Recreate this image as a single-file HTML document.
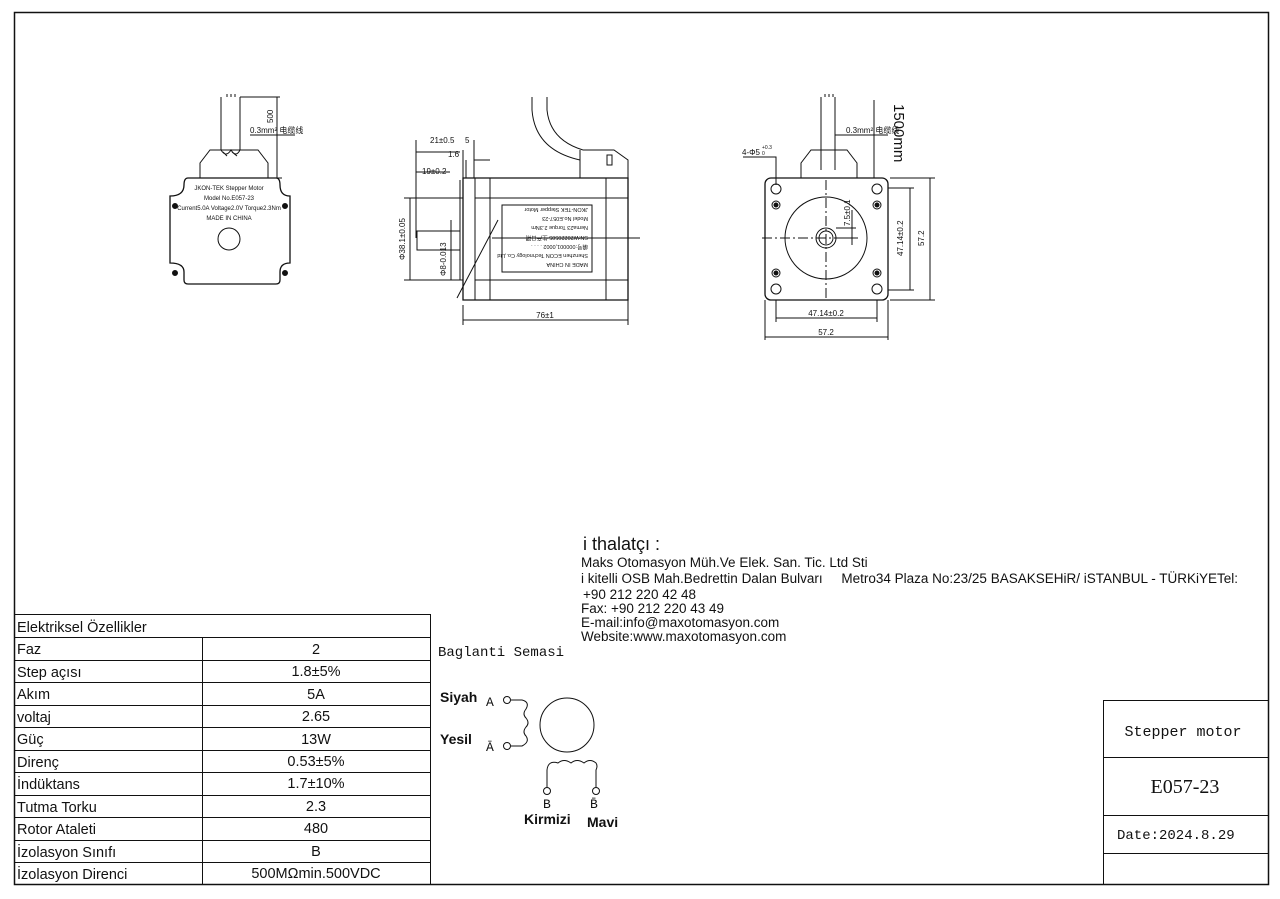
<!DOCTYPE html>
<html><head><meta charset="utf-8"><style>
html,body{margin:0;padding:0;background:#fff;}
svg{display:block;}
text{font-family:"Liberation Sans","Noto Sans CJK SC",sans-serif;fill:#111;}
.m{font-family:"Liberation Mono","Noto Sans CJK SC",monospace;}
.s{font-size:8px;}
</style></head><body>
<svg width="1280" height="899" viewBox="0 0 1280 899" xmlns="http://www.w3.org/2000/svg" stroke="#111" fill="none" stroke-width="1">
<rect x="14.5" y="12.5" width="1254" height="872" stroke-width="1.5"/>

<g>
<path d="M221 97 V150 M240 97 V150 M227 97 v-3 M231 97 v-3 M235 97 v-3"/>
<path d="M221 150 q5 8 10 0 q5 8 9 0 M223 152 l4 4 M232 152 l5 4"/>
<path d="M200 178 V163 L210 150 H258 L268 163 V178"/>
<path d="M188 178 H276 Q280 178 280 185 Q280 196 290 196 V263 Q280 263 280 272 V280 Q280 284 276 284 H188 Q184 284 184 280 V272 Q184 263 170 263 V196 Q184 196 184 185 Q184 178 188 178Z" stroke-width="1.3"/>
<circle cx="175" cy="206" r="2.5" fill="#111"/><circle cx="285" cy="206" r="2.5" fill="#111"/>
<circle cx="175" cy="273" r="2.5" fill="#111"/><circle cx="285" cy="273" r="2.5" fill="#111"/>
<circle cx="229" cy="239" r="11"/>
<path d="M240 97 H280 M268 178 H282 M277 97 V178 M250 135 H295"/>
<text class="s" x="262" y="118" transform="rotate(-90 270 115)" stroke="none">500</text>
<text class="s" x="250" y="133" stroke="none">0.3mm² 电缆线</text>
<text x="229" y="190" font-size="6" text-anchor="middle" stroke="none">JKON-TEK  Stepper Motor</text>
<text x="229" y="200" font-size="6" text-anchor="middle" stroke="none">Model No.E057-23</text>
<text x="229" y="210" font-size="6" text-anchor="middle" stroke="none">Current5.0A  Voltage2.0V  Torque2.3Nm</text>
<text x="229" y="220" font-size="6" text-anchor="middle" stroke="none">MADE IN CHINA</text>
</g>

<g>
<path d="M463 178 H628 V300 H463 Z" stroke-width="1.3"/>
<path d="M475 178 V300 M490 178 V300 M606 178 V300 M475 198 H628 M475 280 H628"/>
<path d="M460 198 V280 H463 M460 198 H463"/>
<rect x="417" y="231" width="43" height="19"/>
<rect x="502" y="205" width="90" height="67"/>
<path d="M492 238 H640"/>
<path d="M532 97 V110 Q535 150 580 160 M547 97 V110 Q550 140 583 150"/>
<path d="M580 150 V178 M583 150 H614 L628 160 V178 M607 155 V165 H612 V155Z"/>
<path d="M416 140 V238 M463 150 V178 M474 140 V178 M416 152 H460 M474 160 H490 M416 172 H450 M460 180 V198 M466 160 V178"/>
<path d="M404 198 H460 M404 280 H460 M410 198 V280"/>
<path d="M451 220 V280 M445 250 H460"/>
<path d="M457 298 L498 220"/>
<path d="M463 305 V325 M628 300 V325 M463 320 H628"/>
<text class="s" x="430" y="143" stroke="none">21±0.5</text>
<text class="s" x="465" y="143" stroke="none">5</text>
<text class="s" x="448" y="157" stroke="none">1.6</text>
<text class="s" x="422" y="174" stroke="none">19±0.2</text>
<text class="s" x="405" y="260" transform="rotate(-90 405 260)" stroke="none">Φ38.1±0.05</text>
<text class="s" x="446" y="276" transform="rotate(-90 446 276)" stroke="none">Φ8-0.013</text>
<text class="s" x="545" y="318" text-anchor="middle" stroke="none">76±1</text>
<g transform="rotate(180 547 238)" stroke="none" font-size="5.5">
<text x="506" y="213">MADE IN CHINA</text>
<text x="506" y="222">Shenzhen ECON Technology Co.,Ltd</text>
<text x="506" y="231">编号:000001,0002 . . . .</text>
<text x="506" y="240">SN:W20220505 生产日期</text>
<text x="506" y="250">Nema23  Torque 2.3Nm</text>
<text x="506" y="259">Model No.E057-23</text>
<text x="506" y="268">JKON-TEK   Stepper Motor</text>
</g>
</g>

<g>
<path d="M821 97 V170 M835 97 V170 M825 97 v-3 M829 97 v-3 M833 97 v-3"/>
<path d="M801 178 V163 L811 150 H847 L857 163 V178"/>
<rect x="765" y="178" width="123" height="122" rx="6" stroke-width="1.3"/>
<circle cx="826" cy="238" r="41"/>
<circle cx="826" cy="238" r="10"/><circle cx="826" cy="238" r="7"/>
<circle cx="776" cy="189" r="5"/><circle cx="877" cy="189" r="5"/><circle cx="776" cy="289" r="5"/><circle cx="877" cy="289" r="5"/>
<circle cx="776" cy="205" r="4"/><circle cx="776" cy="205" r="2" fill="#111"/>
<circle cx="877" cy="205" r="4"/><circle cx="877" cy="205" r="2" fill="#111"/>
<circle cx="776" cy="273" r="4"/><circle cx="776" cy="273" r="2" fill="#111"/>
<circle cx="877" cy="273" r="4"/><circle cx="877" cy="273" r="2" fill="#111"/>
<path d="M826 180 V300 M762 238 H858" stroke-dasharray="10 3 2 3"/>
<path d="M874 100 V178 M835 135 H888 M743 157 H776 V185"/>
<path d="M888 188 H914 M888 290 H914 M910 188 V290 M890 178 H935 M890 300 H935 M930 178 V300"/>
<path d="M776 300 V322 M877 300 V322 M776 318 H877 M765 300 V340 M888 300 V340 M765 337 H888"/>
<path d="M836 228 H856 M836 238 H856 M852 210 V245"/>
<text class="s" x="846" y="133" stroke="none">0.3mm² 电缆线</text>
<text x="894" y="104" font-size="15" transform="rotate(90 894 104)" stroke="none">1500mm</text>
<text class="s" x="742" y="155" stroke="none">4-Φ5</text>
<text x="762" y="149" font-size="5" stroke="none">+0.3</text>
<text x="762" y="155" font-size="5" stroke="none">0</text>
<text class="s" x="826" y="316" text-anchor="middle" stroke="none">47.14±0.2</text>
<text class="s" x="826" y="335" text-anchor="middle" stroke="none">57.2</text>
<text class="s" x="903" y="256" transform="rotate(-90 903 256)" stroke="none">47.14±0.2</text>
<text class="s" x="924" y="246" transform="rotate(-90 924 246)" stroke="none">57.2</text>
<text class="s" x="850" y="226" transform="rotate(-90 850 226)" stroke="none">7.5±0.1</text>
</g>

<g stroke="none">
<text x="583" y="550" font-size="18">i thalatçı   :</text>
<text x="581" y="567" font-size="13.5">Maks Otomasyon Müh.Ve Elek. San. Tic. Ltd Sti</text>
<text x="581" y="583" font-size="13.5" xml:space="preserve">i kitelli OSB Mah.Bedrettin Dalan Bulvarı     Metro34 Plaza No:23/25 BASAKSEHiR/ iSTANBUL - TÜRKiYETel:</text>
<text x="583" y="599" font-size="13.5">+90 212 220 42 48</text>
<text x="581" y="613" font-size="13.5">Fax: +90 212 220 43 49</text>
<text x="581" y="627" font-size="13.5">E-mail:info@maxotomasyon.com</text>
<text x="581" y="641" font-size="13.5">Website:www.maxotomasyon.com</text>
</g>

<g stroke-width="1">
<rect x="14.5" y="614.5" width="416" height="270"/>
<path d="M14 637.5 H431 M14 660.5 H431 M14 682.5 H431 M14 705.5 H431 M14 727.5 H431 M14 750.5 H431 M14 772.5 H431 M14 795.5 H431 M14 817.5 H431 M14 840.5 H431 M14 862.5 H431"/>
<path d="M202.5 637 V884"/>
</g>
<g stroke="none" font-size="14.5">
<text x="17" y="632">Elektriksel Özellikler</text>
<text x="17" y="654">Faz</text><text x="316" y="654" text-anchor="middle">2</text>
<text x="17" y="677">Step açısı</text><text x="316" y="676" text-anchor="middle">1.8±5%</text>
<text x="17" y="699">Akım</text><text x="316" y="699" text-anchor="middle">5A</text>
<text x="17" y="722">voltaj</text><text x="316" y="721" text-anchor="middle">2.65</text>
<text x="17" y="744">Güç</text><text x="316" y="744" text-anchor="middle">13W</text>
<text x="17" y="767">Direnç</text><text x="316" y="766" text-anchor="middle">0.53±5%</text>
<text x="17" y="789">İndüktans</text><text x="316" y="788" text-anchor="middle">1.7±10%</text>
<text x="17" y="812">Tutma Torku</text><text x="316" y="811" text-anchor="middle">2.3</text>
<text x="17" y="834">Rotor Ataleti</text><text x="316" y="833" text-anchor="middle">480</text>
<text x="17" y="857">İzolasyon Sınıfı</text><text x="316" y="856" text-anchor="middle">B</text>
<text x="17" y="879">İzolasyon Direnci</text><text x="316" y="878" text-anchor="middle">500MΩmin.500VDC</text>
</g>

<g>
<text class="m" x="438" y="656" font-size="14" stroke="none">Baglanti Semasi</text>
<text x="440" y="702" font-size="14" font-weight="bold" stroke="none">Siyah</text>
<text x="440" y="744" font-size="14" font-weight="bold" stroke="none">Yesil</text>
<text x="486" y="706" font-size="13" stroke="none" class="m">A</text>
<text x="486" y="751" font-size="13" stroke="none" class="m">Ā</text>
<circle cx="507" cy="700" r="3.5"/><circle cx="507" cy="746" r="3.5"/>
<path d="M511 700 H522 Q530 702 526 709 Q522 714 526 718 Q530 723 526 727 Q522 732 526 736 Q530 742 522 746 H511"/>
<circle cx="567" cy="725" r="27"/>
<path d="M547 787 V770 Q548 760 558 763 Q564 758 571 763 Q577 758 584 763 Q590 758 596 763 Q598 766 596 770 V787"/>
<circle cx="547" cy="791" r="3.5"/><circle cx="596" cy="791" r="3.5"/>
<text x="543" y="808" font-size="13" stroke="none" class="m">B</text>
<text x="590" y="808" font-size="13" stroke="none" class="m">B̄</text>
<text x="524" y="824" font-size="14" font-weight="bold" stroke="none">Kirmizi</text>
<text x="587" y="827" font-size="14" font-weight="bold" stroke="none">Mavi</text>
</g>

<g>
<path d="M1103.5 700 V884 M1103 700.5 H1268 M1103 757.5 H1268 M1103 815.5 H1268 M1103 853.5 H1268"/>
<text class="m" x="1183" y="736" font-size="15" text-anchor="middle" stroke="none">Stepper motor</text>
<text x="1185" y="793" font-size="20" text-anchor="middle" stroke="none" style="font-family:'Liberation Serif',serif">E057-23</text>
<text class="m" x="1117" y="839" font-size="14" stroke="none">Date:2024.8.29</text>
</g>
</svg>
</body></html>
